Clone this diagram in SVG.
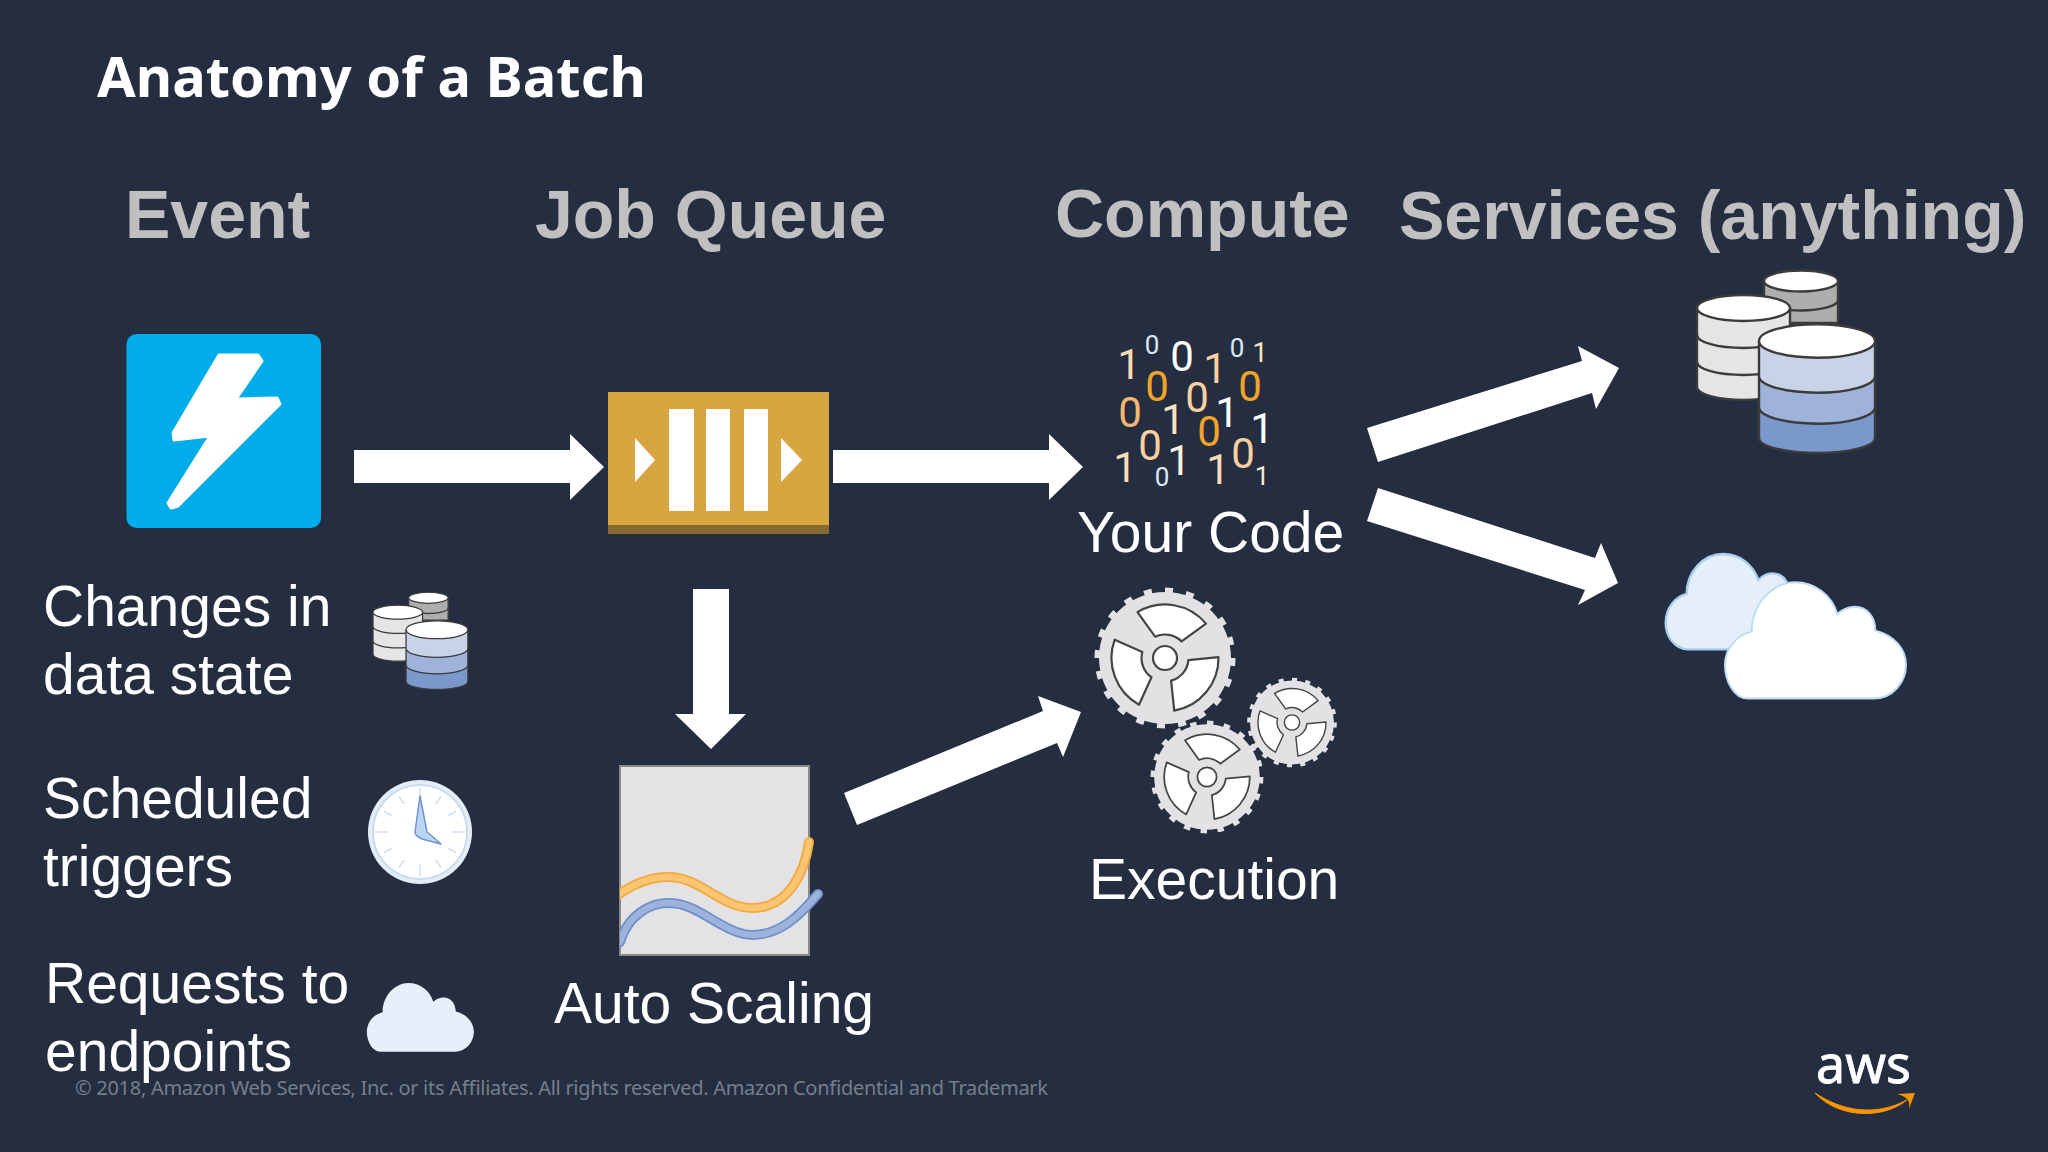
<svg xmlns="http://www.w3.org/2000/svg" width="2048" height="1152" viewBox="0 0 2048 1152">
<style>
text{font-family:"Liberation Sans",Arial,sans-serif}
.lbl{font-size:57px;fill:#fff}
.hd{font-size:68px;font-weight:700;fill:#c0c0c0}
text.dg{text-anchor:middle;font-family:Roboto,"Liberation Sans",sans-serif}
.con{fill:#fff}
.db{stroke:#3b3b3b;stroke-width:2.4}
.gr{fill:#e2e2e4}
.cut{fill:#fff;stroke:#444;stroke-width:2.2;stroke-linejoin:round}
</style>
<defs>
<clipPath id="chart"><rect x="620" y="760" width="220" height="195"/></clipPath>
<g id="dbs">
<path class="db" fill="#aeaeae" d="M1764 281V323H1838V281Z"/>
<path d="M1764 300A37 10.5 0 0 0 1838 300" fill="none" class="db"/>
<ellipse class="db" cx="1801" cy="281" rx="37" ry="10.5" fill="#fff"/>
<path class="db" fill="#e5e5e8" d="M1697 308V387A46.500 13 0 0 0 1790 387V308Z"/>
<path class="db" fill="none" d="M1697 335A46.500 13 0 0 0 1790 335M1697 362A46.500 13 0 0 0 1790 362"/>
<ellipse class="db" cx="1743.500" cy="308" rx="46.500" ry="13" fill="#fff"/>
<path fill="#c9d3e8" d="M1759 341H1875V376A58 16.700 0 0 1 1759 376Z"/>
<path fill="#9fb2da" d="M1759 376A58 16.700 0 0 0 1875 376V407A58 16.700 0 0 1 1759 407Z"/>
<path fill="#7a98cc" d="M1759 407A58 16.700 0 0 0 1875 407V438A58 15 0 0 1 1759 438Z"/>
<path class="db" fill="none" d="M1759 341V438A58 15 0 0 0 1875 438V341M1759 376A58 16.700 0 0 0 1875 376M1759 407A58 16.700 0 0 0 1875 407"/>
<ellipse class="db" cx="1817" cy="341" rx="58" ry="16.700" fill="#fff"/>
</g>
<path id="cloudshape" d="M445 1346C400 1346 375 1290 375 1245C375 1195 410 1155 455 1145C455 1060 520 997 585 997C645 997 695 1035 712 1092C730 1075 745 1070 765 1070C800 1070 826 1100 826 1142C880 1155 918 1195 918 1245C918 1295 880 1346 820 1346Z"/>
<path id="sector" class="cut" d="M-27.500 -45.900A53.500 53.500 0 0 1 41 -34.400L16.600 -16.600A23.500 23.500 0 0 0 -9.900 -21.300Z"/>
<g id="gear">
<circle class="gr" r="66"/>
<circle r="67.500" fill="none" stroke="#e2e2e4" stroke-width="6" pathLength="20" stroke-dasharray=".38 .62"/>
<use href="#sector"/>
<use href="#sector" transform="rotate(120)"/>
<use href="#sector" transform="rotate(240)"/>
<circle r="12" fill="#fff" stroke="#444" stroke-width="2.200"/>
</g>
</defs>
<rect width="2048" height="1152" fill="#252e40"/>
<text id="title" x="97" y="97" font-size="56" font-weight="700" fill="#fff" style="font-family:'Noto Sans','Open Sans',sans-serif" textLength="549">Anatomy of a Batch</text>
<g id="headers">
<text class="hd" x="125" y="238">Event</text>
<text class="hd" x="535" y="238">Job Queue</text>
<text class="hd" x="1055" y="237">Compute</text>
<text class="hd" x="1399" y="239">Services (anything)</text>
</g>
<g id="connectors">
<polygon class="con" points="354,450 570,450 570,434 604,467 570,500 570,483 354,483"/>
<polygon class="con" points="833,450 1049,450 1049,434 1083,467 1049,500 1049,483 833,483"/>
<polygon class="con" points="693,589 729,589 729,714 746,714 711,749 675,714 693,714"/>
<polygon class="con" points="844,793 1043,711 1038,696 1081,712 1063,757 1057,743 857,825"/>
<polygon class="con" points="1367,428 1582,361 1578,346 1619,368 1596,409 1592,393 1378,462"/>
<polygon class="con" points="1378,488 1595,558 1601,543 1618,583 1578,605 1585,590 1367,521"/>
</g>
<g id="event">
<rect x="126.500" y="334" width="194.500" height="194" rx="10" fill="#00ade8"/>
<path fill="#fff" stroke="#fff" stroke-width="3" stroke-linejoin="round" d="M219 355L258 355L262 361L236 399L277 398L280 404L178 506L171 508L168 503L210 436L174 440L173 433Z"/>
</g>
<g id="queue">
<rect x="608" y="392" width="221" height="142" fill="#d7a640"/>
<rect x="608" y="525" width="221" height="9" fill="#856a33"/>
<rect x="669" y="409" width="25" height="102" fill="#fff"/>
<rect x="706" y="409" width="24" height="102" fill="#fff"/>
<rect x="744" y="409" width="24" height="102" fill="#fff"/>
<polygon points="635,438 655,460 635,482" fill="#fff"/>
<polygon points="781,438 802,460 781,482" fill="#fff"/>
</g>
<g id="your-code">
<text class="dg" x="1129" y="379" font-size="42" fill="#fad9b0">1</text>
<text class="dg" x="1152" y="354" font-size="26" fill="#dce8f4">0</text>
<text class="dg" x="1182" y="371" font-size="42" fill="#fff">0</text>
<text class="dg" x="1215" y="383" font-size="42" fill="#fad0a0">1</text>
<text class="dg" x="1237" y="357" font-size="26" fill="#dce8f4">0</text>
<text class="dg" x="1260" y="362" font-size="27" fill="#fce4c8">1</text>
<text class="dg" x="1157" y="401" font-size="42" fill="#f0a52a">0</text>
<text class="dg" x="1250" y="401" font-size="42" fill="#f0a52a">0</text>
<text class="dg" x="1197" y="412" font-size="42" fill="#fad0a0">0</text>
<text class="dg" x="1130" y="427" font-size="42" fill="#f6b870">0</text>
<text class="dg" x="1173" y="434" font-size="42" fill="#fce0c0">1</text>
<text class="dg" x="1227" y="427" font-size="42" fill="#fff">1</text>
<text class="dg" x="1209" y="446" font-size="42" fill="#f0a52a">0</text>
<text class="dg" x="1262" y="443" font-size="42" fill="#fff">1</text>
<text class="dg" x="1150" y="460" font-size="42" fill="#fad0a0">0</text>
<text class="dg" x="1179" y="475" font-size="42" fill="#fcf0e0">1</text>
<text class="dg" x="1125" y="482" font-size="42" fill="#fcdcb8">1</text>
<text class="dg" x="1162" y="486" font-size="26" fill="#dce8f4">0</text>
<text class="dg" x="1218" y="484" font-size="42" fill="#fcdcb8">1</text>
<text class="dg" x="1243" y="468" font-size="42" fill="#fad0a0">0</text>
<text class="dg" x="1262" y="485" font-size="26" fill="#fce8d0">1</text>
<text class="lbl" x="1077" y="552">Your Code</text>
</g>
<g id="execution">
<use href="#gear" transform="translate(1165 658)"/>
<use href="#gear" transform="translate(1207 777) scale(.8)"/>
<use href="#gear" transform="translate(1292 722.500) scale(.636)"/>
<text class="lbl" x="1089" y="899">Execution</text>
</g>
<g id="auto-scaling">
<rect x="620" y="766" width="189" height="189" fill="#e3e3e5" stroke="#8a8a8a" stroke-width="2"/>
<g clip-path="url(#chart)" fill="none" stroke-linecap="round">
<path d="M618 895C636 882 652 877 668 877C690 877 705 890 720 898C730 904 740 908 752 908C790 908 805 870 809 842" stroke="#f4a93c" stroke-width="10"/>
<path d="M618 895C636 882 652 877 668 877C690 877 705 890 720 898C730 904 740 908 752 908C790 908 805 870 809 842" stroke="#fcc573" stroke-width="6.500"/>
<path d="M620 942C628 915 650 903 668 903C690 903 705 916 720 924C732 931 742 935 752 935C785 935 805 908 818 894" stroke="#6e90c8" stroke-width="10"/>
<path d="M620 942C628 915 650 903 668 903C690 903 705 916 720 924C732 931 742 935 752 935C785 935 805 908 818 894" stroke="#9db2dc" stroke-width="6.500"/>
</g>
<text class="lbl" x="554" y="1023">Auto Scaling</text>
</g>
<g id="services-databases"><use href="#dbs"/></g>
<g id="services-clouds">
<g transform="translate(1600 250) scale(.3333)">
<path d="M265 1198C225 1198 197 1160 197 1118C197 1075 225 1040 260 1032C260 965 310 912 370 912C420 912 460 945 475 990C490 975 505 970 515 970C540 970 555 985 562 1000V1198Z" fill="#e4effa" stroke="#a8cfee" stroke-width="7"/>
<use href="#cloudshape" fill="#fff" stroke="#bcdcf2" stroke-width="6"/>
</g>
</g>
<g id="changes-in-data-state">
<text class="lbl" x="43" y="626">Changes in</text>
<text class="lbl" x="43" y="694">data state</text>
<use href="#dbs" transform="translate(-531.500 448) scale(.533)"/>
</g>
<g id="scheduled-triggers">
<text class="lbl" x="43" y="818">Scheduled</text>
<text class="lbl" x="43" y="886">triggers</text>
<circle cx="420" cy="832" r="52" fill="#e4eef8"/>
<circle cx="420" cy="832" r="47" fill="#fff" stroke="#c8dcf0" stroke-width="2"/>
<path d="M420 788V800M420 864V876M376 832H388M452 832H464M441 796L436 804M456 811L448 816M456 853L448 848M441 868L436 860M399 868L404 860M384 853L392 848M384 811L392 816M399 796L404 804" stroke="#d3e2f2" stroke-width="1.500" fill="none"/>
<path d="M420 796L427 832L441 844L422 839Q415 836 415 832Z" fill="#bcd6f2" stroke="#6f94cf" stroke-width="1.500" stroke-linejoin="round"/>
</g>
<g id="requests-to-endpoints">
<text class="lbl" x="45" y="1003">Requests to</text>
<text class="lbl" x="45" y="1071">endpoints</text>
<use href="#cloudshape" fill="#e6f0fb" transform="translate(293 786.600) scale(.197)"/>
</g>
<text id="footer" x="75" y="1095" font-size="20" fill="#767e8c" style="font-family:'Noto Sans','Open Sans',sans-serif" textLength="973">© 2018, Amazon Web Services, Inc. or its Affiliates. All rights reserved. Amazon Confidential and Trademark</text>
<g id="aws-logo">
<text x="1816" y="1083" font-size="52" fill="#fff" stroke="#fff" stroke-width=".8" style="font-family:'Noto Sans','Open Sans',sans-serif" textLength="95">aws</text>
<path d="M1815 1093C1842 1111 1875 1117 1907 1100C1882 1120 1838 1118 1815 1093Z" fill="#f79400" stroke="#f79400" stroke-width="1"/>
<path d="M1897 1094L1915 1093L1909 1109C1910 1102 1909 1097 1897 1094Z" fill="#f79400"/>
</g>
</svg>
